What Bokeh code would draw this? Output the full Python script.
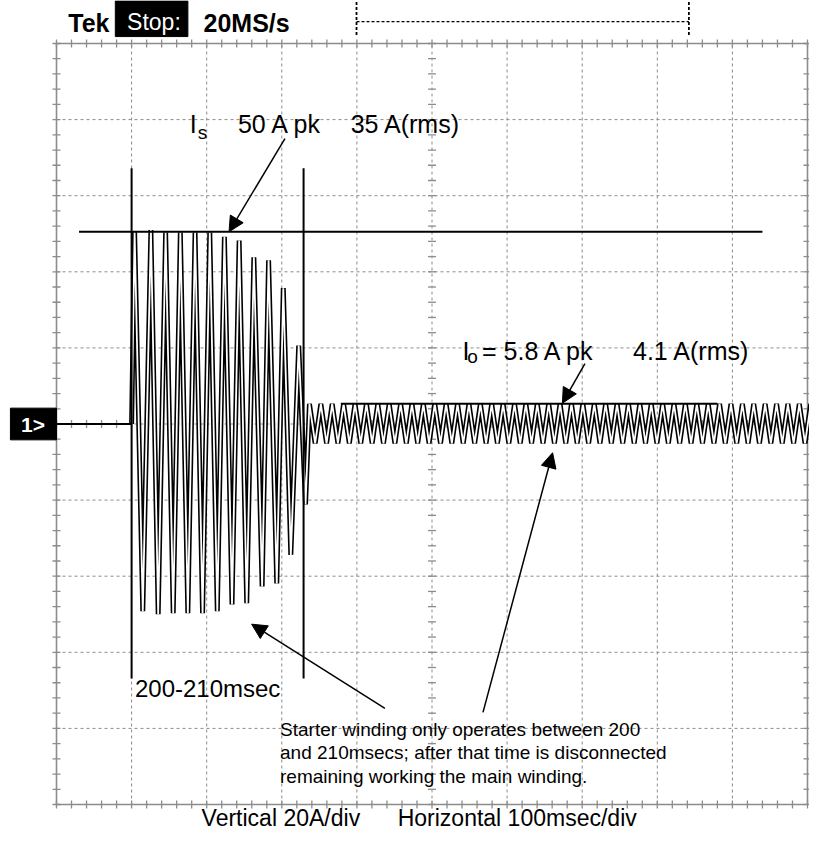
from bokeh.plotting import figure
from bokeh.models import Range1d, Label, Arrow, NormalHead
from bokeh.embed import file_html
from bokeh.resources import INLINE
import numpy as np

# ---------------- data ----------------
# time in ms (100 ms/div), current in A (20 A/div)
pre_ms = [0.0, 100.0]
pre_A = [0.0, 0.0]

burst_peak_ms = [104.0, 125.7, 145.3, 164.9, 184.5, 204.1, 223.6, 243.2, 262.8, 282.4, 302.0, 322.5]
burst_peak_A = [50.5, 51.0, 50.3, 50.3, 50.3, 50.3, 49.2, 48.2, 43.8, 43.0, 35.7, 20.6]
burst_trough_ms = [114.9, 135.4, 155.4, 174.9, 194.5, 214.1, 233.7, 253.3, 273.8, 293.3, 312.0, 331.6]
burst_trough_A = [-49.2, -50.0, -49.7, -49.7, -49.7, -49.2, -47.4, -47.1, -42.7, -41.9, -34.4, -21.1]

run_peak_ms = [336.8, 352.0, 367.1, 382.3, 397.5, 412.7, 427.8, 443.0, 458.2, 473.3,
               488.5, 503.7, 518.8, 534.0, 549.2, 564.4, 579.5, 594.7, 609.9, 625.0,
               640.2, 655.4, 670.5, 685.7, 700.9, 716.1, 731.2, 746.4, 761.6, 776.7,
               791.9, 807.1, 822.2, 837.4, 852.6, 867.8, 882.9, 898.1, 913.3, 928.4,
               943.6, 958.8, 973.9, 989.1]
run_trough_ms = [344.4, 359.6, 374.7, 389.9, 405.1, 420.3, 435.4, 450.6, 465.8, 480.9,
                 496.1, 511.3, 526.4, 541.6, 556.8, 572.0, 587.1, 602.3, 617.5, 632.6,
                 647.8, 663.0, 678.1, 693.3, 708.5, 723.7, 738.8, 754.0, 769.2, 784.3,
                 799.5, 814.7, 829.8, 845.0, 860.2, 875.4, 890.5, 905.7, 920.9, 936.0,
                 951.2, 966.4, 981.5, 996.7]
run_peak_A = 5.3
run_trough_A = -5.1

Is_level_A = 50.5
Is_span_ms = [30.0, 940.0]
Io_level_A = 5.3
Io_span_ms = [378.6, 880.0]
marker_ms = [100.0, 329.0]
marker_span_A = [-66.9, 67.2]

# ---------------- helpers: reference pixel -> data ----------------
def X(px):
    return (px - 57.0) / 0.766

def Y(py):
    return (431.0 - py) / 3.84

FONT = "Liberation Sans"

# canvas: 0 ms at px 56, 1000 ms at px 807; +100 A at px 43, -100 A at px 804
CSX = 0.751
TOP, BOT = 43.0, 804.0
CSY = (BOT - TOP) / 200.0
W, H = 809, 838
p = figure(width=W, height=H,
           x_range=Range1d(-56 / CSX, (W - 56) / CSX),
           y_range=Range1d(-100 - (H - BOT) / CSY, 100 + TOP / CSY), min_border=0,
           toolbar_location=None, output_backend="svg",
           x_axis_type=None, y_axis_type=None)
p.outline_line_color = None
p.background_fill_color = "white"
p.border_fill_color = "white"

GRID = "#8c8c8c"

# graticule: dotted division lines
vx = [100.0 * i for i in range(1, 10)]
hy = [20.0 * i for i in range(-4, 5)]
p.multi_line(xs=[[x, x] for x in vx], ys=[[-100, 100] for _ in vx],
             line_color=GRID, line_width=1, line_dash="3 3")
p.multi_line(xs=[[0, 1000] for _ in hy], ys=[[y, y] for y in hy],
             line_color=GRID, line_width=1, line_dash="3 3")
# border
p.multi_line(xs=[[0, 1000, 1000, 0, 0]], ys=[[100, 100, -100, -100, 100]],
             line_color=GRID, line_width=1.6)
# minor ticks on border and centre lines
tx = np.arange(0, 1001, 20.0)
ty = np.arange(-100, 101, 4.0)
dy = 4 / CSY
dx = 4 / CSX
for yy in (100, -100, 0):
    p.segment(x0=tx, y0=yy - dy, x1=tx, y1=yy + dy, line_color=GRID, line_width=1.3)
for xx in (0, 1000, 500):
    p.segment(x0=xx - dx, y0=ty, x1=xx + dx, y1=ty, line_color=GRID, line_width=1.3)

# ---------------- trace ----------------
tr_x = [pre_ms[-1]]
tr_y = [pre_A[-1]]
for a, b, c, d in zip(burst_peak_ms, burst_peak_A, burst_trough_ms, burst_trough_A):
    tr_x += [a, c]
    tr_y += [b, d]
for a, c in zip(run_peak_ms, run_trough_ms):
    tr_x += [a, c]
    tr_y += [run_peak_A, run_trough_A]
tr_x.append(run_trough_ms[-1] + (run_trough_ms[-1] - run_peak_ms[-1]))
tr_y.append(run_peak_A)

p.line(tr_x, tr_y, line_color="black", line_width=5.0)
p.line(tr_x, tr_y, line_color="white", line_width=1.8)
p.line(pre_ms, pre_A, line_color="black", line_width=2.2)

# reference lines and markers
p.line(Is_span_ms, [Is_level_A, Is_level_A], line_color="black", line_width=2)
p.line(Io_span_ms, [Io_level_A, Io_level_A], line_color="black", line_width=2)
for m in marker_ms:
    p.line([m, m], marker_span_A, line_color="black", line_width=2)

# ---------------- header ----------------
p.quad(left=[X(117)], right=[X(191)], top=[Y(4)], bottom=[Y(40)],
       fill_color="black", line_color="black")
p.quad(left=[X(10)], right=[X(57)], top=[Y(415)], bottom=[Y(447)],
       fill_color="black", line_color="black")
p.line([X(363), X(363)], [Y(5), Y(40)], line_color="black", line_width=1.8, line_dash="3 2")
p.line([X(702), X(702)], [Y(5), Y(40)], line_color="black", line_width=1.8, line_dash="3 2")
p.line([X(363), X(702)], [Y(25), Y(25)], line_color="black", line_width=1.3, line_dash="3 2")

LDY = 6  # alphabetic labels are drawn slightly low: lift them


def lab(px, py, text, size, color="black", style="normal", align="left", base="alphabetic"):
    yy = Y(py - LDY) if base == "alphabetic" else Y(py)
    p.add_layout(Label(x=X(px), y=yy, text=text, text_font=FONT,
                       text_font_size=f"{size}px", text_color=color,
                       text_font_style=style, text_align=align, text_baseline=base))


lab(69, 32, "Tek", 25, style="bold")
lab(129, 31, "Stop:", 23, color="white")
lab(207, 32, "20MS/s", 25, style="bold")
lab(33, 431, "1>", 21, color="white", style="bold", align="center", base="middle")

lab(193, 134, "I", 25)
lab(201, 143, "s", 19)
lab(242, 134, "50 A pk", 25)
lab(357, 134, "35 A(rms)", 25)

lab(471, 363, "I", 25)
lab(476, 369, "o", 19)
lab(491, 363, "= 5.8 A pk", 25)
lab(645, 363, "4.1 A(rms)", 25)

lab(137, 704, "200-210msec", 24)
lab(285, 745, "Starter winding only operates between 200", 19)
lab(285, 769, "and 210msecs; after that time is disconnected", 19)
lab(285, 793, "remaining working the main winding.", 19)

lab(205, 835, "Vertical 20A/div", 23)
lab(405, 835, "Horizontal 100msec/div", 23)

# ---------------- arrows ----------------
arrows = [((290, 143), (233, 237)), ((596, 370), (573, 410)),
          ((492, 722), (563, 460)), ((392, 718), (256, 633))]
for (x0, y0), (x1, y1) in arrows:
    p.add_layout(Arrow(end=NormalHead(size=15, fill_color="black", line_color="black"),
                       x_start=X(x0), y_start=Y(y0), x_end=X(x1), y_end=Y(y1),
                       line_color="black", line_width=1.5))

open("out.html", "w").write(file_html(p, INLINE))
